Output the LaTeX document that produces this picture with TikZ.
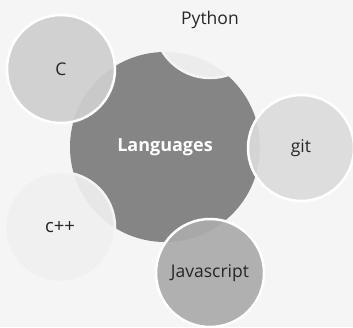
\documentclass[tikz,border=0pt]{standalone}
\usepackage{fontspec}
\setmainfont{Open Sans}
\begin{document}
\begin{tikzpicture}[x=1pt,y=-1pt,
  bubble/.style={circle,draw=white,line width=2.5pt,fill opacity=0.92,text opacity=1,inner sep=0pt,font=\fontsize{17.5}{20}\selectfont,text=black!85},
  hub/.style={circle,fill=hubgray,inner sep=0pt,font=\fontsize{18}{20}\selectfont\bfseries,text=white}]
\definecolor{hubgray}{HTML}{858585}
\definecolor{bg}{HTML}{F5F5F5}
\fill[bg] (0,0) rectangle (353,327);
\useasboundingbox (0,0) rectangle (353,327);
\node[hub,minimum size=190pt] (lang) at (165,147) {Languages};
\node[bubble,draw=bg,fill=bg,minimum size=112pt] (py) at (210,22) {};
\node[font=\fontsize{17.5}{20}\selectfont,text=black!85] (pyt) at (210,20) {Python};
\node[bubble,fill=black!19,minimum size=108pt] (c) at (61,69) {C};
\node[bubble,fill=black!14,minimum size=106pt] (git) at (301,148) {git};
\node[bubble,draw=bg,fill=black!6,minimum size=110pt,font=\fontsize{18.5}{20}\selectfont] (cpp) at (60,227) {c++};
\node[bubble,fill=black!33,minimum size=108pt] (js) at (210,273) {Javascript};
\end{tikzpicture}
\end{document}
